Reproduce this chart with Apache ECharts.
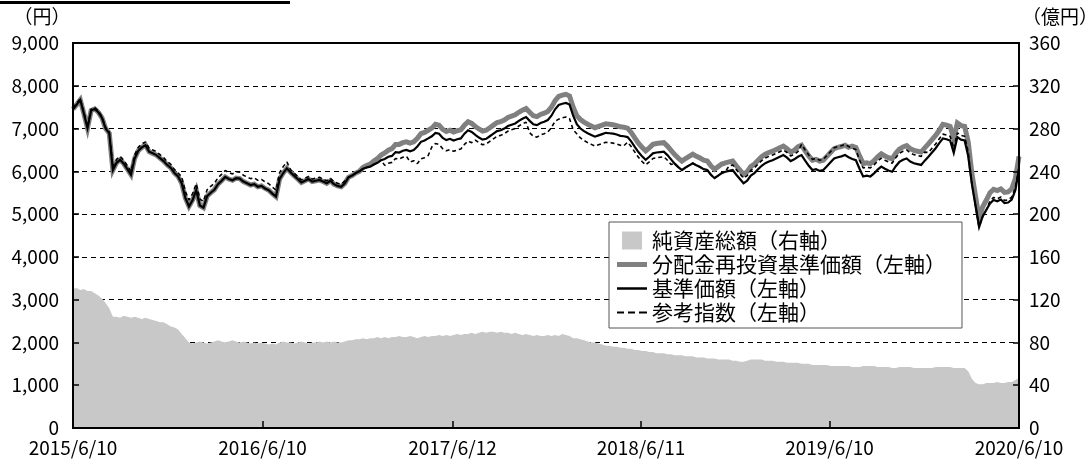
<!DOCTYPE html>
<html><head><meta charset="utf-8">
<script src="https://cdn.jsdelivr.net/npm/echarts@6/dist/echarts.min.js"></script>
<style>html,body{margin:0;padding:0;background:#fff}#c{width:1089px;height:459px}</style>
</head><body><div id="c"></div>
<script>
// x-axis tick labels (dates)
const tickLabels = ['2015/6/10','2016/6/10','2017/6/12','2018/6/11','2019/6/10','2020/6/10'];
const leftTicks = [0,1000,2000,3000,4000,5000,6000,7000,8000,9000];
const rightTicks = [0,40,80,120,160,200,240,280,320,360];
const seriesNames = ['純資産総額（右軸）','分配金再投資基準価額（左軸）','基準価額（左軸）','参考指数（左軸）'];

// weekly samples from 2015/6/10 to 2020/6/10
// 基準価額 (yen)
const navValues = [
7450,7560,7670,7350,7010,7420,7460,7380,7250,7000,
6890,6030,6200,6270,6180,6050,5920,6300,6480,6560,
6610,6460,6420,6380,6310,6240,6150,6080,5960,5880,
5720,5380,5180,5330,5560,5200,5150,5420,5500,5570,
5700,5780,5870,5820,5790,5840,5830,5760,5720,5680,
5700,5640,5660,5600,5560,5480,5410,5820,5960,6070,
5980,5900,5820,5740,5780,5820,5760,5780,5800,5760,
5720,5780,5700,5660,5640,5720,5860,5900,5960,6000,
6060,6090,6110,6160,6200,6260,6290,6340,6360,6450,
6440,6480,6500,6470,6500,6580,6690,6720,6770,6820,
6900,6880,6780,6730,6760,6720,6750,6770,6880,6960,
6920,6850,6790,6740,6760,6820,6880,6940,6960,7000,
7060,7090,7120,7180,7230,7270,7180,7100,7080,7130,
7160,7200,7300,7450,7550,7580,7600,7560,7300,7100,
7000,6940,6890,6850,6810,6840,6870,6900,6890,6880,
6860,6830,6820,6800,6700,6570,6450,6350,6270,6340,
6420,6440,6450,6460,6380,6280,6180,6100,6030,6090,
6140,6190,6140,6100,6050,6030,5920,5840,5900,5960,
5990,6010,6030,5920,5820,5720,5780,5900,5960,6050,
6130,6190,6230,6260,6300,6340,6380,6320,6240,6280,
6340,6380,6250,6130,6030,6050,6010,6030,6120,6210,
6300,6330,6350,6380,6330,6290,6260,6060,5880,5900,
5880,5950,6040,6110,6060,6020,5990,6120,6220,6270,
6300,6230,6190,6170,6150,6250,6340,6440,6540,6660,
6770,6750,6720,6430,6800,6740,6720,6350,5700,5200,
4700,4950,5100,5250,5330,5300,5340,5260,5270,5340,
5560,6050];

// 分配金再投資基準価額 (yen)
const reinvestValues = [
7450,7560,7670,7350,7010,7420,7460,7380,7250,7000,
6890,6030,6200,6270,6180,6050,5920,6300,6480,6560,
6610,6460,6420,6380,6310,6240,6150,6080,5960,5880,
5720,5380,5180,5330,5560,5200,5150,5420,5500,5570,
5700,5780,5870,5820,5790,5840,5830,5760,5720,5680,
5700,5640,5660,5600,5560,5480,5410,5820,5960,6070,
5980,5900,5820,5740,5780,5820,5760,5780,5800,5760,
5720,5780,5700,5660,5640,5720,5860,5900,5960,6000,
6090,6135,6170,6240,6300,6380,6430,6495,6530,6630,
6630,6670,6690,6660,6690,6770,6880,6910,6960,7010,
7100,7080,6980,6930,6960,6920,6950,6970,7080,7160,
7120,7050,6990,6940,6960,7020,7080,7140,7160,7200,
7260,7290,7320,7380,7430,7470,7380,7300,7280,7330,
7360,7400,7500,7650,7750,7780,7800,7760,7500,7300,
7210,7150,7100,7060,7020,7050,7080,7110,7100,7090,
7070,7040,7030,7010,6910,6780,6660,6560,6480,6550,
6630,6650,6660,6670,6590,6490,6390,6310,6240,6300,
6350,6400,6350,6310,6260,6240,6130,6050,6110,6170,
6200,6220,6240,6130,6030,5930,5990,6110,6170,6260,
6340,6400,6440,6470,6510,6550,6590,6530,6450,6490,
6570,6610,6480,6360,6260,6280,6240,6260,6350,6440,
6530,6560,6580,6610,6560,6590,6560,6360,6180,6200,
6180,6250,6340,6410,6360,6320,6290,6420,6520,6570,
6600,6530,6490,6470,6450,6550,6640,6740,6840,6960,
7100,7080,7050,6760,7130,7070,7050,6680,5950,5420,
4900,5170,5330,5500,5580,5550,5590,5510,5520,5590,
5830,6350];

// 参考指数 (yen)
const indexValues = [
7480,7590,7700,7380,7040,7450,7490,7410,7280,7030,
6920,6110,6280,6350,6260,6130,6000,6380,6560,6640,
6690,6540,6500,6460,6390,6320,6230,6160,6040,5960,
5870,5530,5330,5480,5710,5350,5300,5570,5650,5720,
5850,5930,6020,5970,5940,5990,5980,5910,5870,5830,
5850,5790,5810,5750,5710,5630,5560,5970,6110,6220,
6040,5960,5880,5800,5840,5880,5820,5840,5860,5820,
5780,5840,5760,5720,5700,5780,5860,5900,5960,6000,
6060,6090,6110,6160,6200,6260,6140,6190,6210,6300,
6290,6330,6350,6220,6250,6180,6290,6320,6370,6570,
6650,6630,6530,6480,6510,6470,6500,6520,6630,6710,
6670,6730,6670,6620,6640,6700,6760,6820,6840,6880,
6940,6970,7000,7060,7110,7150,6900,6820,6800,6850,
6880,6920,7020,7170,7220,7250,7270,7230,6970,6880,
6780,6720,6670,6630,6590,6620,6650,6680,6670,6660,
6640,6610,6600,6680,6580,6450,6330,6230,6150,6220,
6300,6320,6330,6340,6260,6160,6180,6100,6030,6090,
6140,6190,6140,6100,6050,6030,5920,5840,5900,5960,
5990,6130,6150,6040,5940,5840,5900,6020,6080,6170,
6250,6310,6350,6380,6420,6460,6500,6440,6360,6400,
6460,6630,6500,6380,6280,6300,6260,6280,6370,6460,
6550,6580,6600,6630,6580,6540,6510,6260,6080,6100,
6080,6150,6240,6310,6260,6220,6190,6320,6420,6470,
6500,6430,6390,6370,6350,6450,6440,6540,6640,6760,
6870,6850,6820,6530,6900,6840,6820,6450,5700,5200,
4700,4950,5100,5310,5390,5360,5400,5320,5330,5400,
5620,6110];

// 純資産総額 (億円)
const assetValues = [
130,131,129,130,128,128,126,124,121,117,
112,104,104,103,105,104,103,104,103,102,
103,102,101,100,99,99,97,95,94,92,
88,84,80,79,80,81,80,79,80,81,
82,81,80,81,82,81,80,81,80,79,
80,79,80,79,78,79,78,80,81,80,
80,79,80,81,80,79,80,80,81,80,
81,80,81,80,80,81,82,82,83,83,
84,83,84,84,85,84,85,84,85,85,
86,85,85,86,85,84,85,86,85,86,
86,87,86,87,86,87,88,87,88,88,
89,88,89,90,89,90,90,89,90,89,
89,88,89,88,87,88,87,86,87,86,
86,87,86,87,86,88,87,86,84,84,
83,82,81,80,80,79,78,77,77,76,
76,75,75,74,74,73,73,72,72,71,
71,70,70,70,69,69,68,68,68,67,
67,67,66,66,66,65,65,65,64,64,
64,64,63,63,62,62,63,64,64,64,
64,63,63,63,62,62,62,61,61,61,
61,60,60,60,59,59,59,59,59,58,
58,58,58,58,58,57,57,57,58,58,
58,58,57,57,57,57,56,56,57,57,
57,57,56,56,56,56,56,56,57,57,
57,57,57,56,56,56,56,53,46,42,
41,41,42,42,42,43,42,42,43,43,
45,47];

function parseD(s){const p=s.split('/').map(Number);return Date.UTC(p[0],p[1]-1,p[2]);}
const DAY = 86400000;
const t0 = parseD(tickLabels[0]);
// day offsets of the labelled ticks
const tickDays = tickLabels.map(s=>Math.round((parseD(s)-t0)/DAY));
const labelOf = {}; tickDays.forEach((d,i)=>{labelOf[d]=tickLabels[i];});
// weekly sample positions (days since 2015/6/10)
const sampleDays = navValues.map((_,i)=>i*7);
const pair = arr => arr.map((v,i)=>[sampleDays[i],v]);

const FONT = '"Noto Sans CJK JP", "Noto Sans", sans-serif';
const chart = echarts.init(document.getElementById('c'), null, {renderer:'canvas'});
chart.setOption({
  animation:false,
  backgroundColor:'#fff',
  textStyle:{fontFamily:FONT,color:'#000'},
  grid:{left:73,right:70,top:43,bottom:31,show:true,borderColor:'#000',borderWidth:2,backgroundColor:'transparent'},
  legend:{
    orient:'vertical',left:609,top:222,
    padding:[8,16,5,8],itemGap:3,itemWidth:30,itemHeight:18,
    backgroundColor:'#fff',borderColor:'#555',borderWidth:1,
    textStyle:{fontSize:21,fontFamily:FONT,color:'#000',lineHeight:21},
    z:20,
    data:[
      {name:seriesNames[0],icon:'path://M0 0H20V18H0Z'},
      {name:seriesNames[1],icon:'path://M0 0H30V5H0Z'},
      {name:seriesNames[2],icon:'path://M0 0H30V2.5H0Z'},
      {name:seriesNames[3],icon:'path://M0 0H7V2H0Z M11 0H18V2H11Z M22 0H30V2H22Z'}
    ]
  },
  xAxis:{
    type:'value',min:tickDays[0],max:tickDays[tickDays.length-1],z:5,
    axisLine:{show:true,lineStyle:{color:'#000',width:2}},
    axisTick:{show:true,inside:true,length:7,customValues:tickDays,lineStyle:{color:'#000',width:1.5}},
    axisLabel:{show:true,customValues:tickDays,fontSize:19,color:'#000',margin:10,fontFamily:FONT,
      formatter:v=>labelOf[v]||''},
    splitLine:{show:false}
  },
  yAxis:[
    {type:'value',position:'left',min:0,max:9000,interval:1000,z:5,
      axisLine:{show:true,lineStyle:{color:'#000',width:2}},
      axisTick:{show:true,inside:true,length:6,lineStyle:{color:'#000',width:1.5}},
      axisLabel:{fontSize:19,color:'#000',margin:14,fontFamily:FONT,
        formatter:v=>leftTicks.indexOf(v)>=0?v.toLocaleString('en-US'):''},
      splitLine:{show:false}},
    {type:'value',position:'right',min:0,max:360,interval:40,z:5,
      axisLine:{show:true,lineStyle:{color:'#000',width:2}},
      axisTick:{show:true,inside:true,length:6,lineStyle:{color:'#000',width:1.5}},
      axisLabel:{fontSize:19,color:'#000',margin:10,fontFamily:FONT,
        formatter:v=>rightTicks.indexOf(v)>=0?String(v):''},
      splitLine:{show:false}},
    {type:'value',position:'left',min:0,max:9000,interval:1000,z:0,
      axisLine:{show:false},axisTick:{show:false},axisLabel:{show:false},
      splitLine:{show:true,lineStyle:{color:'#000',width:1,type:[5,4]}}}
  ],
  graphic:[
    {type:'rect',shape:{x:0,y:1,width:290,height:3},style:{fill:'#000'},z:30},
    {type:'text',x:42,y:17,style:{text:'（円）',font:'19px '+FONT,fill:'#000',align:'center',verticalAlign:'middle'},z:30},
    {type:'text',x:1060,y:17,style:{text:'（億円）',font:'19px '+FONT,fill:'#000',align:'center',verticalAlign:'middle'},z:30}
  ],
  series:[
    {name:seriesNames[0],type:'line',yAxisIndex:1,data:pair(assetValues),showSymbol:false,symbol:'none',
      lineStyle:{width:0,color:'#c8c8c8'},itemStyle:{color:'#c8c8c8'},areaStyle:{color:'#c8c8c8',opacity:1},z:1},
    {name:seriesNames[1],type:'line',yAxisIndex:0,data:pair(reinvestValues),showSymbol:false,symbol:'none',
      lineStyle:{width:5,color:'#808080',join:'miter',miterLimit:6},itemStyle:{color:'#808080'},z:2},
    {name:seriesNames[2],type:'line',yAxisIndex:0,data:pair(navValues),showSymbol:false,symbol:'none',
      lineStyle:{width:2.2,color:'#000',join:'miter'},itemStyle:{color:'#000'},z:3},
    {name:seriesNames[3],type:'line',yAxisIndex:0,data:pair(indexValues),showSymbol:false,symbol:'none',
      lineStyle:{width:1.6,color:'#000',type:[4,3]},itemStyle:{color:'#000'},z:4}
  ]
});
</script></body></html>
